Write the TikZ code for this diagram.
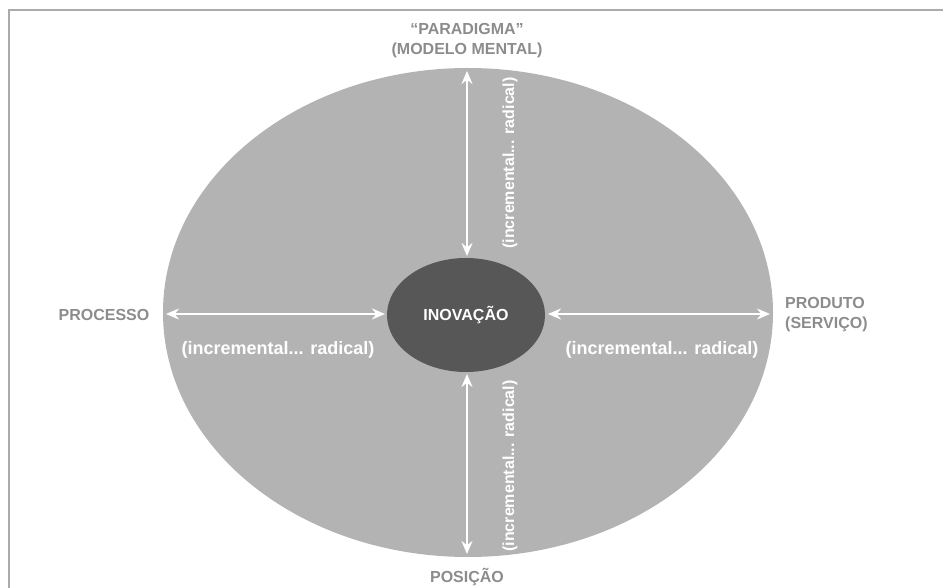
\documentclass[tikz,border=0pt]{standalone}
\usepackage{fontspec}
\setmainfont{Liberation Sans}
\usetikzlibrary{arrows.meta,shapes.geometric}
\definecolor{ellgray}{HTML}{B3B3B3}
\definecolor{coregray}{HTML}{575757}
\definecolor{labgray}{HTML}{8C8C8C}
\definecolor{framegray}{HTML}{ABABAB}
\tikzset{
  outerlab/.style={text=labgray, font=\bfseries\fontsize{16}{20}\selectfont, inner sep=0pt},
  inclab/.style={text=white, font=\bfseries\fontsize{18}{20}\selectfont, inner sep=0pt},
  vinclab/.style={text=white, font=\bfseries\fontsize{16}{18}\selectfont, inner sep=0pt, rotate=90},
  arr/.style={white, line width=2.6pt, {Stealth[length=13pt,width=11pt]}-{Stealth[length=13pt,width=11pt]}, shorten <=1pt, shorten >=1pt}
}
\begin{document}
\begin{tikzpicture}[x=1pt,y=-1pt]
\useasboundingbox (0,0) rectangle (943,588);
\coordinate (fbl) at (9,588);
\coordinate (ftl) at (9,10);
\coordinate (ftr) at (943,10);
\draw[framegray, line width=1.5pt] (fbl) -- (ftl) -- (ftr);
\node[ellipse, fill=ellgray, minimum width=610pt, minimum height=489pt, inner sep=0pt] (outer) at (468,312.5) {};
\node[ellipse, fill=coregray, minimum width=158pt, minimum height=114pt, inner sep=0pt,
      text=white, font=\bfseries\fontsize{16}{20}\selectfont] (core) at (466,315) {INOVAÇÃO};
% arrows
\coordinate (lo) at (165,314);
\coordinate (li) at (386,314);
\coordinate (ri) at (547,314);
\coordinate (ro) at (771,314);
\coordinate (to) at (467,70);
\coordinate (ti) at (467,257);
\coordinate (bi) at (467,373);
\coordinate (bo) at (467,555);
\draw[arr] (lo) -- (li);
\draw[arr] (ri) -- (ro);
\draw[arr] (to) -- (ti);
\draw[arr] (bi) -- (bo);
% outer labels
\node[outerlab] (proc) at (104,315) {PROCESSO};
\node[outerlab, anchor=west, align=left] (prod) at (785,315) {PRODUTO\\(SERVIÇO)};
\node[outerlab, align=center] (para) at (467,41) {“PARADIGMA”\\(MODELO MENTAL)};
\node[outerlab] (pos) at (467,577) {POSIÇÃO};
% range labels
\node[inclab] (incl) at (278,350) {(incremental... radical)};
\node[inclab] (incr) at (662,350) {(incremental... radical)};
\node[vinclab] (inct) at (510,163) {(incremental... radical)};
\node[vinclab] (incb) at (510,466) {(incremental... radical)};
\end{tikzpicture}
\end{document}
